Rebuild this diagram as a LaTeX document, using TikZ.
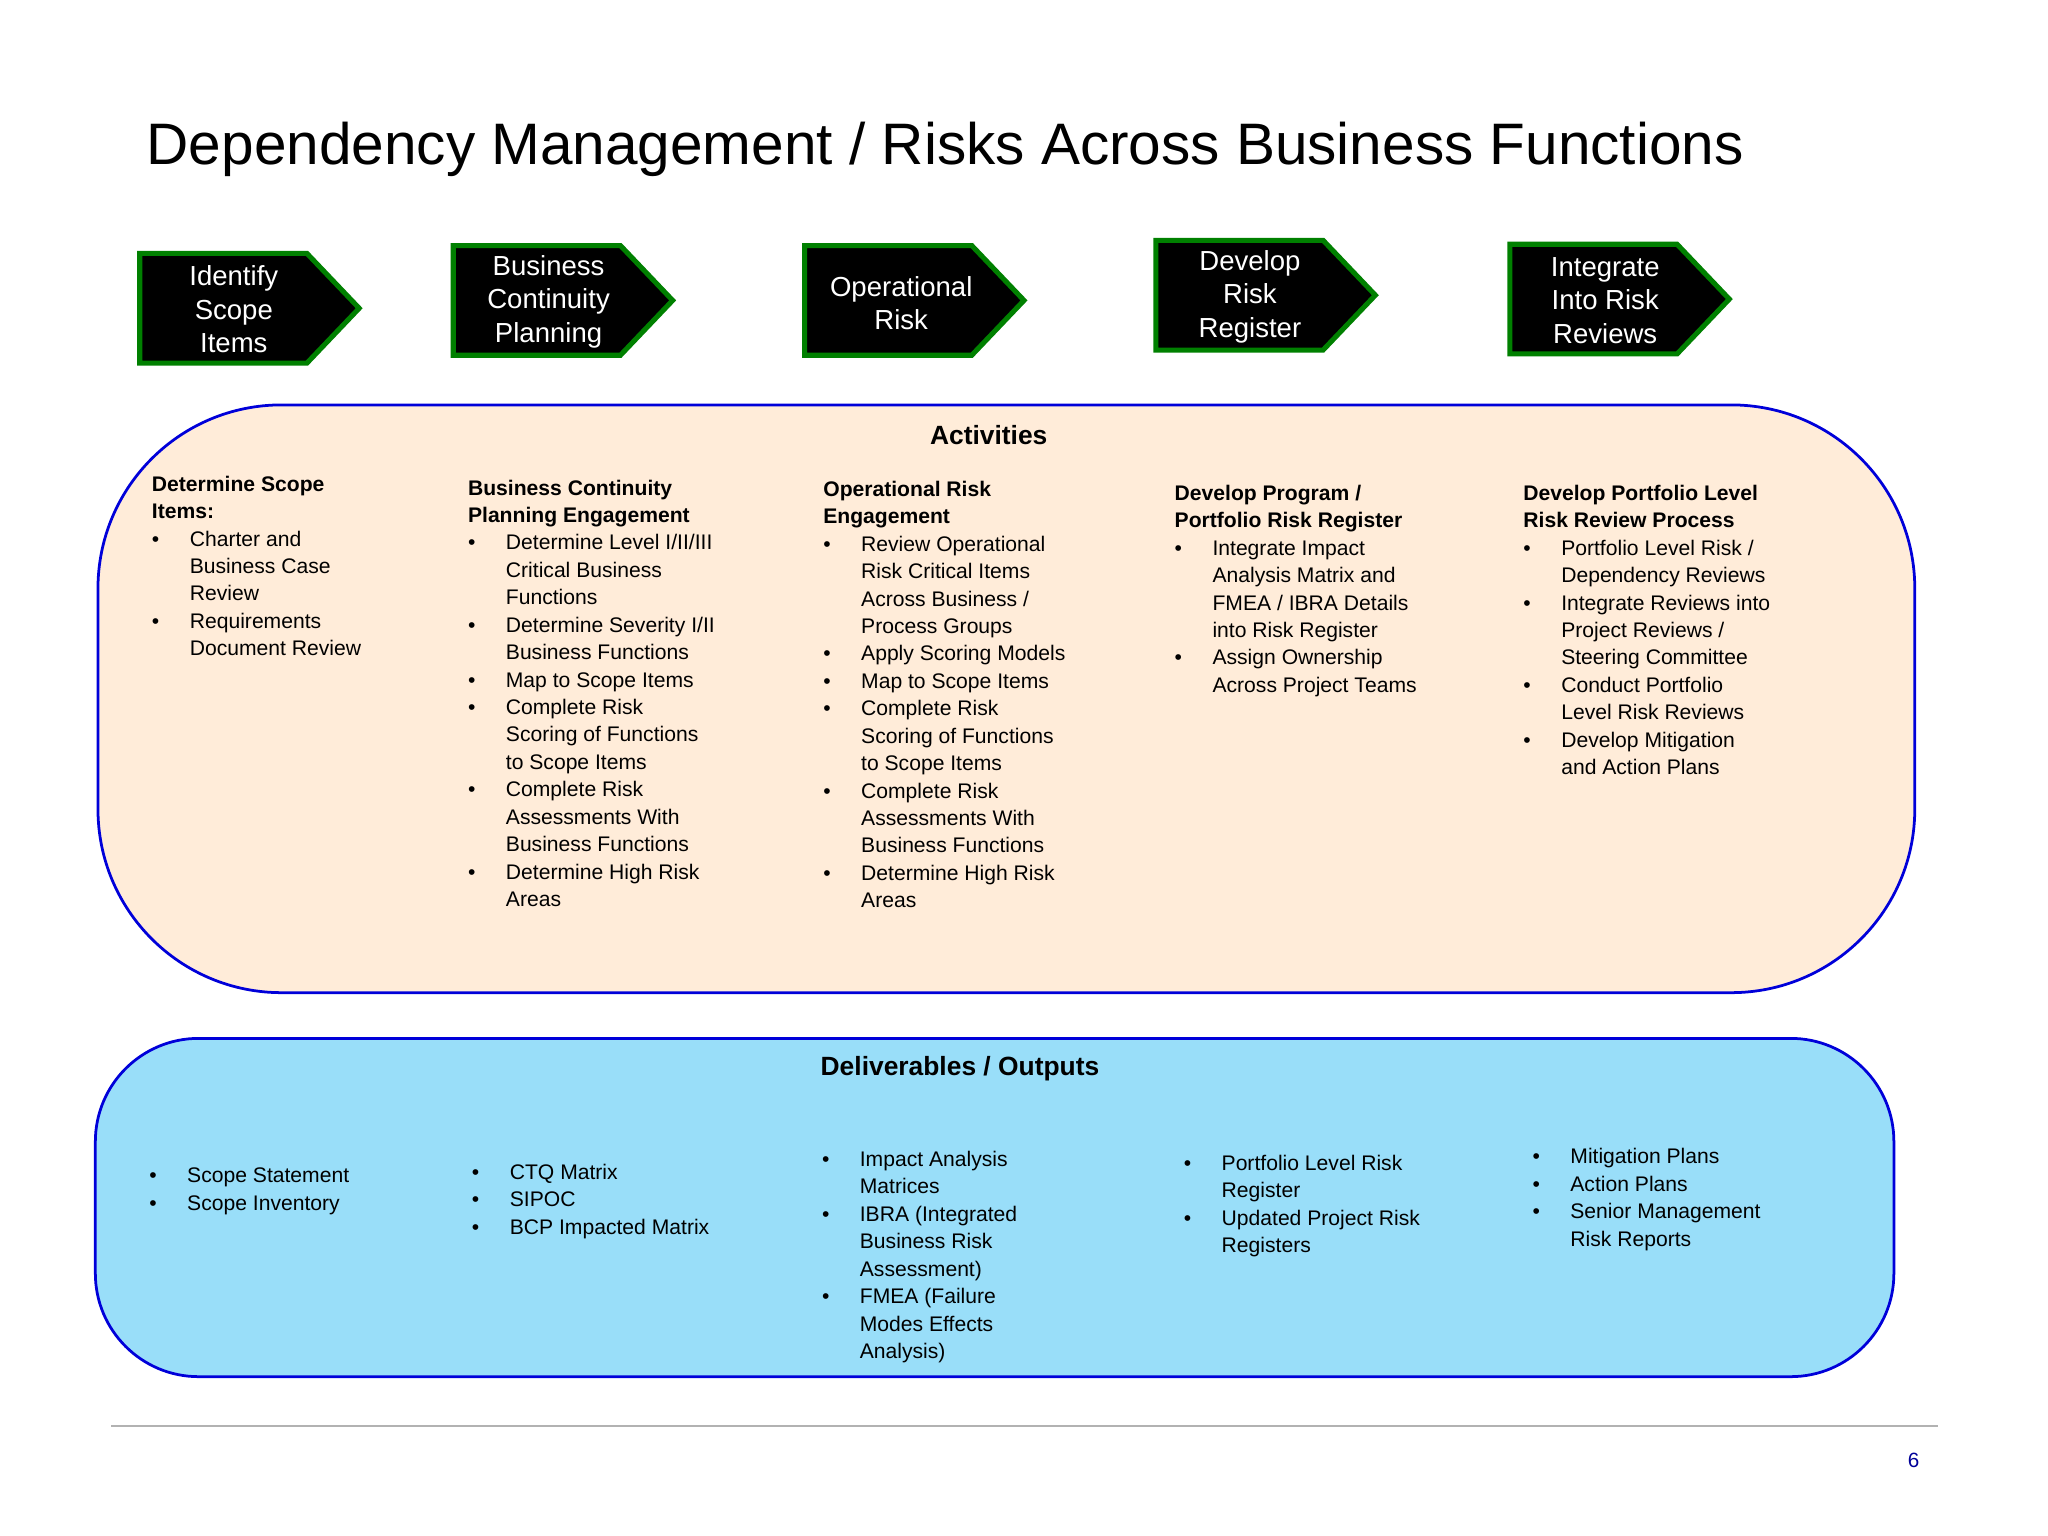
\documentclass[tikz,border=0pt]{standalone}
\usepackage{fontspec}
\setmainfont{Liberation Sans}
\begin{document}
\newcommand{\bu}{\makebox[0.58cm][l]{\textbullet}}
\newcommand{\ind}{\hspace*{0.58cm}}
\begin{tikzpicture}[x=0.02cm,y=-0.02cm,
  chev/.style={fill=black,draw=green!50!black,line width=2.2pt},
  chevtxt/.style={text=white,align=center,font=\fontsize{12}{14.6}\selectfont},
  col/.style={anchor=north west,inner sep=0pt,align=left,font=\fontsize{9.2}{11.95}\selectfont},
  hd/.style={font=\bfseries\fontsize{11.5}{14}\selectfont}]
\useasboundingbox (0,0) rectangle (1568,1176);
\node[anchor=base west,inner sep=0,font=\fontsize{25.5}{30}\selectfont] (title) at (112,126) {Dependency Management / Risks Across Business Functions};
% chevrons
\foreach \l/\t/\n in {107/194/1,347/188/2,616/188/3,885/184/4,1156/187/5}{
  \draw[chev] (\l,\t) -- (\l+128,\t) -- (\l+168,\t+42) -- (\l+128,\t+84) -- (\l,\t+84) -- cycle;
}
\node[chevtxt] (c1) at (179,237) {Identify\\Scope\\Items};
\node[chevtxt] (c2) at (420,231) {Business\\Continuity\\Planning};
\node[chevtxt] (c3) at (690,232) {Operational\\Risk};
\node[chevtxt] (c4) at (957,227) {Develop\\Risk\\Register};
\node[chevtxt] (c5) at (1229,230) {Integrate\\Into Risk\\Reviews};
% boxes
\draw[fill=orange!15!white,draw=blue!85!black,line width=1.2pt,rounded corners=80] (75,310) rectangle (1466,760);
\draw[fill=cyan!40!white,draw=blue!85!black,line width=1.2pt,rounded corners=45] (73,795) rectangle (1450,1054);
\node[hd] (act) at (757,333) {Activities};
\node[hd] (del) at (735,818) {Deliverables / Outputs};
% activity columns
\node[col] (a1) at (116,364) {\textbf{Determine Scope}\\\textbf{Items:}\\
\bu Charter and\\\ind Business Case\\\ind Review\\
\bu Requirements\\\ind Document Review};
\node[col] (a2) at (358,367) {\textbf{Business Continuity}\\\textbf{Planning Engagement}\\
\bu Determine Level I/II/III\\\ind Critical Business\\\ind Functions\\
\bu Determine Severity I/II\\\ind Business Functions\\
\bu Map to Scope Items\\
\bu Complete Risk\\\ind Scoring of Functions\\\ind to Scope Items\\
\bu Complete Risk\\\ind Assessments With\\\ind Business Functions\\
\bu Determine High Risk\\\ind Areas};
\node[col] (a3) at (630,368) {\textbf{Operational Risk}\\\textbf{Engagement}\\
\bu Review Operational\\\ind Risk Critical Items\\\ind Across Business /\\\ind Process Groups\\
\bu Apply Scoring Models\\
\bu Map to Scope Items\\
\bu Complete Risk\\\ind Scoring of Functions\\\ind to Scope Items\\
\bu Complete Risk\\\ind Assessments With\\\ind Business Functions\\
\bu Determine High Risk\\\ind Areas};
\node[col] (a4) at (899,371) {\textbf{Develop Program /}\\\textbf{Portfolio Risk Register}\\
\bu Integrate Impact\\\ind Analysis Matrix and\\\ind FMEA / IBRA Details\\\ind into Risk Register\\
\bu Assign Ownership\\\ind Across Project Teams};
\node[col] (a5) at (1166,371) {\textbf{Develop Portfolio Level}\\\textbf{Risk Review Process}\\
\bu Portfolio Level Risk /\\\ind Dependency Reviews\\
\bu Integrate Reviews into\\\ind Project Reviews /\\\ind Steering Committee\\
\bu Conduct Portfolio\\\ind Level Risk Reviews\\
\bu Develop Mitigation\\\ind and Action Plans};
% deliverables
\node[col] (d1) at (114,894) {\bu Scope Statement\\\bu Scope Inventory};
\node[col] (d2) at (361,891) {\bu CTQ Matrix\\\bu SIPOC\\\bu BCP Impacted Matrix};
\node[col] (d3) at (629,881) {\bu Impact Analysis\\\ind Matrices\\\bu IBRA (Integrated\\\ind Business Risk\\\ind Assessment)\\\bu FMEA (Failure\\\ind Modes Effects\\\ind Analysis)};
\node[col] (d4) at (906,884) {\bu Portfolio Level Risk\\\ind Register\\\bu Updated Project Risk\\\ind Registers};
\node[col] (d5) at (1173,879) {\bu Mitigation Plans\\\bu Action Plans\\\bu Senior Management\\\ind Risk Reports};
\draw[gray!60,line width=0.8pt] (85,1092) coordinate (l1) -- (1484,1092) coordinate (l2);
\node[text=blue!60!black,font=\fontsize{9}{11}\selectfont] (pg) at (1465,1118) {6};
\end{tikzpicture}
\end{document}
